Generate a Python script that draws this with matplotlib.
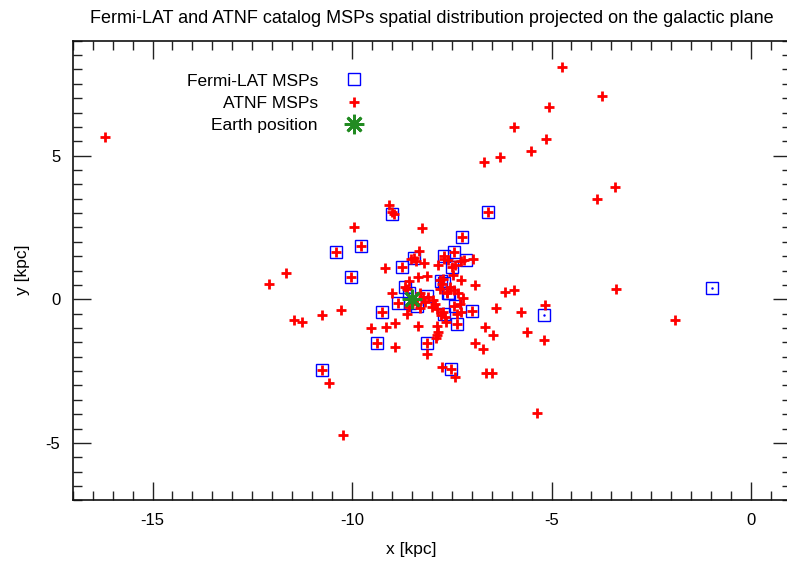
import matplotlib
matplotlib.use("Agg")
import matplotlib.pyplot as plt
from matplotlib.ticker import MultipleLocator

plt.rcParams['font.family'] = ['Liberation Sans', 'DejaVu Sans']
plt.rcParams['axes.unicode_minus'] = False

# ATNF MSPs (x, y) in kpc
atnf_x = [-16.19, -4.74, -3.73, -5.07, -5.95, -5.14, -5.52, -6.29, -6.70, -3.41,
          -3.86, -5.95, -3.38, -1.91, -5.16, -5.19, -5.76, -5.61, -5.36, -10.23,
          -9.07, -9.01, -8.96, -6.58, -9.94, -8.24, -7.24, -10.40, -9.77, -8.31,
          -7.44, -7.69, -8.52, -8.44, -8.40, -8.19, -7.69, -7.60, -9.17, -8.76,
          -7.85, -7.49, -7.42, -7.28, -7.19, -6.98, -11.65, -12.07, -10.02, -7.46,
          -8.12, -8.35, -8.56, -7.79, -7.71, -7.27, -6.91, -6.17, -8.66, -7.75,
          -7.63, -7.54, -7.45, -7.34, -7.21, -8.99, -8.84, -9.26, -10.28, -10.74,
          -11.45, -11.26, -9.53, -9.15, -8.92, -8.34, -7.86, -7.85, -7.87, -7.90,
          -7.36, -6.99, -6.40, -6.66, -6.47, -6.93, -6.71, -9.37, -8.92, -8.12,
          -8.13, -10.76, -10.58, -7.75, -7.52, -7.41, -6.64, -6.49, -8.62, -8.30,
          -8.37, -8.58, -8.63, -8.21, -8.09, -7.98, -8.00, -7.92, -7.88, -7.78,
          -7.71, -7.67, -7.64, -7.44, -7.29, -7.28, -7.38, -8.30, -8.17, -7.61,
          -7.79]
atnf_y = [5.65, 8.07, 7.08, 6.68, 5.99, 5.58, 5.17, 4.94, 4.77, 3.90,
          3.49, 0.32, 0.36, -0.72, -0.20, -1.42, -0.44, -1.14, -3.96, -4.72,
          3.27, 3.04, 2.97, 3.03, 2.53, 2.47, 2.16, 1.65, 1.84, 1.69,
          1.63, 1.51, 1.40, 1.45, 1.34, 1.26, 1.39, 1.36, 1.10, 1.13,
          1.18, 1.11, 1.18, 1.33, 1.37, 1.39, 0.93, 0.52, 0.77, 0.85,
          0.82, 0.77, 0.65, 0.67, 0.70, 0.67, 0.50, 0.24, 0.42, 0.53,
          0.26, 0.42, 0.32, 0.21, 0.03, 0.21, -0.12, -0.44, -0.36, -0.55,
          -0.71, -0.78, -0.99, -0.95, -0.84, -0.92, -0.92, -1.13, -1.25, -1.36,
          -0.86, -0.41, -0.31, -0.97, -1.25, -1.53, -1.72, -1.52, -1.67, -1.52,
          -1.90, -2.47, -2.91, -2.36, -2.42, -2.71, -2.55, -2.58, 0.37, 0.21,
          -0.17, -0.26, -0.52, 0.09, 0.07, -0.02, -0.26, -0.16, -0.35, -0.55,
          -0.43, -0.63, -0.78, -0.23, -0.16, -0.43, -0.51, -0.31, -0.08, 0.21,
          0.36]

# Fermi-LAT MSPs (x, y) in kpc
fermi_x = [-9.01, -6.58, -7.24, -10.40, -9.77, -7.44, -7.69, -8.44, -8.76, -7.49,
           -7.14, -10.02, -8.66, -7.76, -7.69, -7.58, -8.84, -9.26, -6.99, -7.36,
           -9.37, -8.12, -10.76, -7.52, -8.57, -8.55, -8.36, -8.11, -7.43, -7.70,
           -0.98, -5.19, -7.60]
fermi_y = [2.98, 3.03, 2.16, 1.65, 1.84, 1.63, 1.51, 1.45, 1.13, 1.13,
           1.36, 0.77, 0.42, 0.65, 0.58, 0.21, -0.12, -0.44, -0.41, -0.86,
           -1.52, -1.52, -2.47, -2.42, 0.21, -0.12, -0.22, 0.10, -0.24, -0.50,
           0.39, -0.55, 0.23]

earth_x = [-8.5]
earth_y = [0.0]

fig = plt.figure(figsize=(7.87, 5.61), dpi=100)
ax = fig.add_axes([0.0924, 0.108, 0.9126, 0.8194])

ax.plot(fermi_x, fermi_y, linestyle='none', marker='s', markersize=8,
        markerfacecolor='none', markeredgecolor='#0000ff', markeredgewidth=1.0,
        label='Fermi-LAT MSPs')
ax.plot(fermi_x, fermi_y, linestyle='none', marker='.', markersize=1.5,
        color='#0000ff')
ax.plot(atnf_x, atnf_y, linestyle='none', marker='+', markersize=6.5,
        markeredgewidth=2.0, color='#ff0000', label='ATNF MSPs')
ax.plot(earth_x, earth_y, linestyle='none', marker=(8, 2, 0), markersize=14,
        markeredgewidth=2.0, color='#228b22', label='Earth position')

ax.set_xlim(-17, 1)
ax.set_ylim(-7, 9)
ax.xaxis.set_major_locator(MultipleLocator(5))
ax.xaxis.set_minor_locator(MultipleLocator(0.5))
ax.yaxis.set_major_locator(MultipleLocator(5))
ax.yaxis.set_minor_locator(MultipleLocator(0.5))
ax.tick_params(which='both', direction='in', top=True, right=True,
               labelsize=12, width=1.0, color='#222222')
ax.tick_params(which='major', length=13, pad=9)
ax.tick_params(which='minor', length=6.5)
for s in ax.spines.values():
    s.set_linewidth(1.2)
    s.set_color('#111111')

ax.set_xlabel('x [kpc]', fontsize=12.5)
ax.set_ylabel('y [kpc]', fontsize=12.5)
ax.xaxis.set_label_coords(0.471, -0.091)
ax.yaxis.set_label_coords(-0.060, 0.501)
ax.set_title('Fermi-LAT and ATNF catalog MSPs spatial distribution projected on the galactic plane',
             fontsize=13, pad=13, x=0.5)

handles, labels = ax.get_legend_handles_labels()
ax.legend(handles, labels, loc='upper right', bbox_to_anchor=(0.414, 0.929),
          markerfirst=False, frameon=False, fontsize=12.5, borderpad=0,
          borderaxespad=0, handletextpad=1.1, labelspacing=0.42, handlelength=1.9)

fig.savefig('out.png', dpi=100)
